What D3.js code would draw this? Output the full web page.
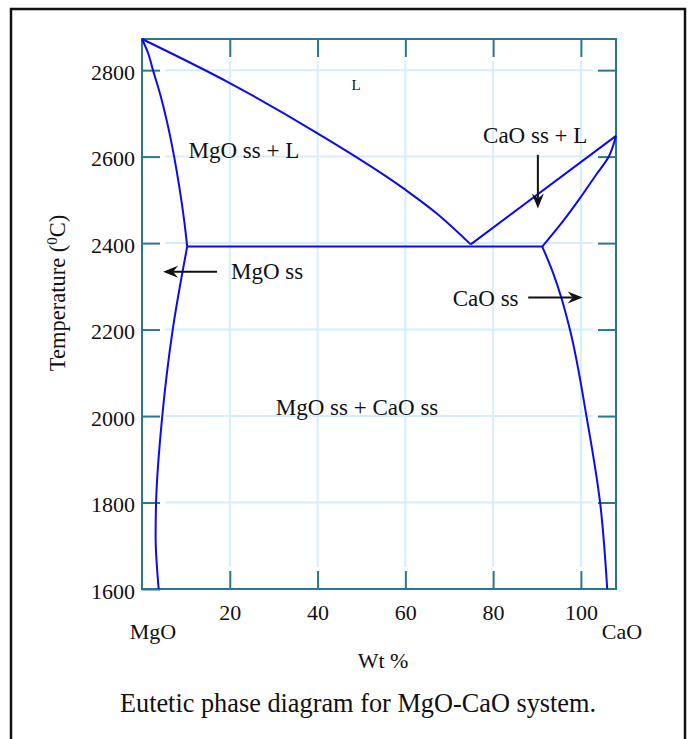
<!DOCTYPE html>
<html>
<head>
<meta charset="utf-8">
<script src="https://cdn.jsdelivr.net/npm/d3@7"></script>
<style>
  html, body { margin: 0; padding: 0; background: #fff; }
  svg { display: block; }
  text { font-family: "Liberation Serif", "Times New Roman", serif; fill: #111; }
</style>
</head>
<body>
<svg id="chart" width="693" height="739"></svg>
<script>
// ---- Data (wt% CaO, temperature °C) ----
const xTicks = [20, 40, 60, 80, 100];
const yTickLabels = [1600, 1800, 2000, 2200, 2400, 2600, 2800];
const yGridTicks = [1800, 2000, 2200, 2400, 2600, 2800];

const mgoLiquidus = [[0, 2872], [20, 2770], [39.8, 2655], [59.5, 2527], [67.1, 2469], [74.9, 2397]];
const mgoSolidus = [[0, 2872], [1.4, 2839], [2.5, 2800], [4.2, 2742], [5.6, 2685], [7.3, 2601], [8.5, 2530], [9.6, 2453], [10.3, 2392]];
const mgoSolvus = [[10.3, 2392], [7.0, 2200], [4.6, 1998], [3.2, 1798], [3.1, 1722], [3.8, 1600]];
const eutecticLine = [[10.3, 2392], [91.2, 2392]];
const caoLiquidus = [[74.9, 2397], [108, 2648]];
const caoSolidus = [[108, 2648], [106.4, 2601], [103.4, 2557], [99.8, 2504], [95.8, 2449], [91.2, 2392]];
const caoSolvus = [[91.2, 2392], [93.7, 2330], [95.6, 2272], [97.5, 2200], [101.3, 1998], [104.4, 1798], [106.0, 1600]];

const regionLabels = [
  { text: "L", x: 48.8, t: 2754, size: 15 },
  { text: "MgO ss + L", x: 23.2, t: 2597, size: 23 },
  { text: "CaO ss + L", x: 89.6, t: 2631, size: 23 },
  { text: "MgO ss", x: 28.5, t: 2316, size: 23 },
  { text: "CaO ss", x: 78.3, t: 2254, size: 23 },
  { text: "MgO ss + CaO ss", x: 49, t: 2002, size: 23 }
];
// arrows: from -> to (tip)
const arrows = [
  { from: [17.1, 2334], to: [4.8, 2334] },
  { from: [90.2, 2604], to: [90.2, 2480] },
  { from: [88.0, 2274], to: [100.4, 2274] }
];

(function () {
const svg = d3.select("#chart");
const pLeft = 142, pRight = 616, pTop = 39, pBottom = 589;
const x = d3.scaleLinear([0, 108], [pLeft, pRight]);
const y = d3.scaleLinear([1600, 2872], [pBottom, pTop]);

const axisColor = "#29778f";
const gridColor = "#d6eefc";
const tickLen = 18, gap = 4;

// outer frame
svg.append("rect").attr("x", 11).attr("y", 9).attr("width", 674).attr("height", 760)
  .attr("fill", "#fff").attr("stroke", "#111").attr("stroke-width", 2.5);

// gridlines
const grid = svg.append("g").attr("stroke", gridColor).attr("stroke-width", 2);
grid.selectAll("line.v").data(xTicks).join("line").attr("class", "v")
  .attr("x1", d => x(d)).attr("x2", d => x(d))
  .attr("y1", pTop + tickLen + gap).attr("y2", pBottom - tickLen - gap);
grid.selectAll("line.h").data(yGridTicks).join("line").attr("class", "h")
  .attr("y1", d => y(d)).attr("y2", d => y(d))
  .attr("x1", pLeft + tickLen + gap + 1).attr("x2", pRight - tickLen - gap - 1);

// axes
function styleAxis(g) {
  g.select(".domain").remove();
  g.selectAll(".tick line").attr("stroke", axisColor).attr("stroke-width", 2);
  g.selectAll(".tick text").attr("font-family", "Liberation Serif, serif").attr("font-size", 22).attr("fill", "#111");
}
svg.append("g").attr("transform", `translate(0,${pBottom})`)
  .call(d3.axisBottom(x).tickValues(xTicks).tickSize(-tickLen).tickPadding(15.5))
  .call(styleAxis);
svg.append("g").attr("transform", `translate(0,${pTop})`)
  .call(d3.axisTop(x).tickValues(xTicks).tickSize(-tickLen).tickFormat(""))
  .call(styleAxis);
svg.append("g").attr("transform", `translate(${pLeft},0)`)
  .call(d3.axisLeft(y).tickValues(yTickLabels).tickSize(-tickLen).tickPadding(7).tickFormat(d3.format("d")))
  .call(styleAxis)
  .call(g => g.selectAll(".tick text").attr("dy", "0.42em"));
svg.append("g").attr("transform", `translate(${pRight},0)`)
  .call(d3.axisRight(y).tickValues(yGridTicks).tickSize(-tickLen).tickFormat(""))
  .call(styleAxis);

// plot frame
svg.append("rect").attr("x", pLeft).attr("y", pTop).attr("width", pRight - pLeft).attr("height", pBottom - pTop)
  .attr("fill", "none").attr("stroke", axisColor).attr("stroke-width", 2);

// phase boundaries
const curveY = d3.line().x(d => x(d[0])).y(d => y(d[1])).curve(d3.curveMonotoneY);
const curveX = d3.line().x(d => x(d[0])).y(d => y(d[1])).curve(d3.curveMonotoneX);
const straight = d3.line().x(d => x(d[0])).y(d => y(d[1]));
const lines = svg.append("g").attr("fill", "none").attr("stroke", "#0a0af5").attr("stroke-width", 2)
  .attr("stroke-linejoin", "round");
lines.append("path").attr("d", curveX(mgoLiquidus));
[mgoSolidus, mgoSolvus, caoSolidus, caoSolvus].forEach(d => lines.append("path").attr("d", curveY(d)));
[eutecticLine, caoLiquidus].forEach(d => lines.append("path").attr("d", straight(d)));

// region labels
svg.append("g").selectAll("text").data(regionLabels).join("text")
  .attr("x", d => x(d.x)).attr("y", d => y(d.t))
  .attr("text-anchor", "middle").attr("font-size", d => d.size)
  .text(d => d.text);

// arrows
const ag = svg.append("g");
arrows.forEach(a => {
  const x1 = x(a.from[0]), y1 = y(a.from[1]), x2 = x(a.to[0]), y2 = y(a.to[1]);
  const ang = Math.atan2(y2 - y1, x2 - x1);
  const L = 15, Wd = 6, back = 10;
  const ux = Math.cos(ang), uy = Math.sin(ang);
  const px = -uy, py = ux;
  const bx = x2 - ux * L, by = y2 - uy * L;
  const nx = x2 - ux * back, ny = y2 - uy * back;
  ag.append("line").attr("x1", x1).attr("y1", y1).attr("x2", nx).attr("y2", ny)
    .attr("stroke", "#111").attr("stroke-width", 2);
  ag.append("path")
    .attr("d", `M${x2},${y2} L${bx + px * Wd},${by + py * Wd} L${nx},${ny} L${bx - px * Wd},${by - py * Wd} Z`)
    .attr("fill", "#111");
});

// axis end labels
svg.append("text").attr("x", 153).attr("y", 639).attr("text-anchor", "middle").attr("font-size", 22).text("MgO");
svg.append("text").attr("x", 622).attr("y", 639).attr("text-anchor", "middle").attr("font-size", 22).text("CaO");
svg.append("text").attr("x", 383).attr("y", 668).attr("text-anchor", "middle").attr("font-size", 22).text("Wt %");

// y axis title
const yt = svg.append("text").attr("transform", "translate(65,293) rotate(-90)")
  .attr("text-anchor", "middle").attr("font-size", 22.5);
yt.append("tspan").text("Temperature (");
yt.append("tspan").attr("font-size", 15).attr("dy", -8).text("0");
yt.append("tspan").attr("dy", 8).text("C)");

// caption
svg.append("text").attr("x", 358).attr("y", 712).attr("text-anchor", "middle").attr("font-size", 26.3)
  .text("Eutetic phase diagram for MgO-CaO system.");
})();
</script>
</body>
</html>
